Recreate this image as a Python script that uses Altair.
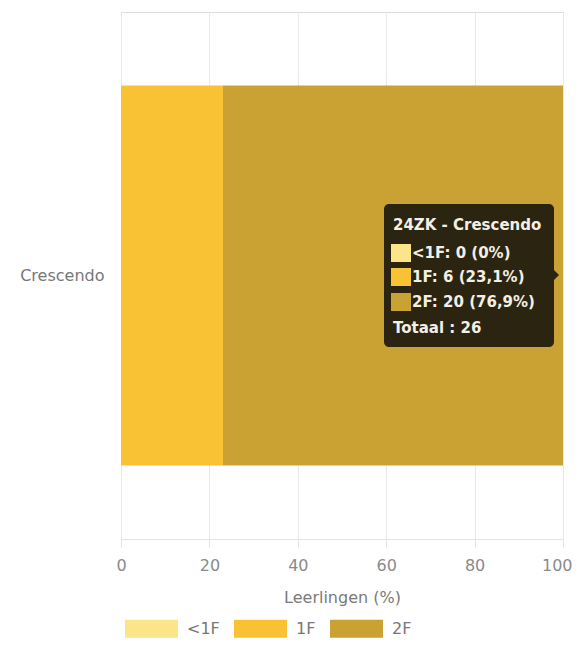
import altair as alt
import pandas as pd

# ---- data ----
school = "24ZK - Crescendo"
levels = ["<1F", "1F", "2F"]
counts = [0, 6, 20]
colors = ["#FCE588", "#F9C235", "#CAA133"]
x_ticks = [0, 20, 40, 60, 80, 100]
x_title = "Leerlingen (%)"

total = sum(counts)
pcts = [100.0 * c / total for c in counts]

df = pd.DataFrame({
    "school": [school] * len(levels),
    "niveau": levels,
    "aantal": counts,
    "pct": pcts,
    "idx": list(range(len(levels))),
})

FONT = "DejaVu Sans"
W, H = 442, 527
last_tick = x_ticks[-1]

bars = alt.Chart(df).mark_bar(size=380).encode(
    x=alt.X("pct:Q", stack="zero", title=x_title,
            scale=alt.Scale(domain=[0, 100], nice=False),
            axis=alt.Axis(values=x_ticks, grid=True, gridColor="#e8e8e8",
                          domainColor="#e3e3e3", tickColor="#e3e3e3", tickSize=8,
                          labelFlush=False,
                          labelAlign={"condition": {"test": f"datum.value == {last_tick}", "value": "right"},
                                      "value": "center"},
                          labelOffset={"condition": {"test": f"datum.value == {last_tick}", "value": 9},
                                       "value": 0},
                          labelColor="#8a8a8a", labelFontSize=16, labelFont=FONT,
                          labelBaseline="middle", labelPadding=18,
                          titleColor="#7a7a7a", titleFontSize=16, titleFont=FONT,
                          titleFontWeight="normal", titleBaseline="middle", titleY=58)),
    y=alt.Y("school:N", title=None,
            axis=alt.Axis(domain=False, ticks=False, labelPadding=17,
                          labelColor="#777777", labelFontSize=16, labelFont=FONT,
                          labelExpr="split(datum.label, ' - ')[1]")),
    color=alt.Color("niveau:N",
                    scale=alt.Scale(domain=levels, range=colors),
                    legend=alt.Legend(title=None, orient="none", legendX=4, legendY=590,
                                      direction="horizontal",
                                      symbolType="M-1,-0.34L1,-0.34L1,0.34L-1,0.34Z",
                                      symbolSize=2809, symbolStrokeWidth=0,
                                      symbolOpacity=1,
                                      labelFontSize=16, labelFont=FONT,
                                      labelColor="#777777", labelOffset=9,
                                      columnPadding=14, padding=0)),
    order=alt.Order("idx:Q"),
)

# ---- tooltip annotation (static) ----
one = pd.DataFrame({"a": [0]})
TT_BG = "#2B2411"
TT_TXT = "#F4EFE4"
TT_FONT = "DejaVu Sans"
box_l, box_r, box_t, box_b = 263, 433, 192, 335

box = alt.Chart(one).mark_rect(cornerRadius=5, color=TT_BG).encode(
    x=alt.value(box_l), x2=alt.value(box_r), y=alt.value(box_t), y2=alt.value(box_b))
arrow = alt.Chart(one).mark_point(shape="M0,-1L1,0L0,1Z", filled=True, size=144,
                                   color=TT_BG, opacity=1).encode(
    x=alt.value(box_r - 1), y=alt.value(263))

layers = [bars, box, arrow]

title_df = pd.DataFrame({"t": [school]})
layers.append(alt.Chart(title_df).mark_text(align="left", baseline="middle",
                                            fontSize=15, fontWeight="bold",
                                            font=TT_FONT, color=TT_TXT).encode(
    x=alt.value(272), y=alt.value(213), text="t:N"))

def fmt_pct(p):
    s = f"{p:.1f}".replace(".", ",")
    if s.endswith(",0"):
        s = s[:-2]
    return s

row_y = [241, 265, 290]
for i, lv in enumerate(levels):
    sw = alt.Chart(one).mark_rect(color=colors[i]).encode(
        x=alt.value(270), x2=alt.value(290),
        y=alt.value(row_y[i] - 9), y2=alt.value(row_y[i] + 9))
    label = f"{lv}: {counts[i]} ({fmt_pct(pcts[i])}%)"
    tx = alt.Chart(pd.DataFrame({"t": [label]})).mark_text(
        align="left", baseline="middle", fontSize=15, fontWeight="bold",
        font=TT_FONT, color=TT_TXT).encode(
        x=alt.value(291), y=alt.value(row_y[i]), text="t:N")
    layers += [sw, tx]

tot = alt.Chart(pd.DataFrame({"t": [f"Totaal : {total}"]})).mark_text(
    align="left", baseline="middle", fontSize=15, fontWeight="bold",
    font=TT_FONT, color=TT_TXT).encode(
    x=alt.value(272), y=alt.value(316), text="t:N")
layers.append(tot)

chart = alt.layer(*layers).properties(
    width=W, height=H,
    autosize=alt.AutoSizeParams(type="none"),
    padding={"left": 113, "top": 4, "right": 10, "bottom": 100},
).configure_view(stroke=None).configure(background="white")

chart.save("out.html", embed_options={"renderer": "svg", "actions": False})
